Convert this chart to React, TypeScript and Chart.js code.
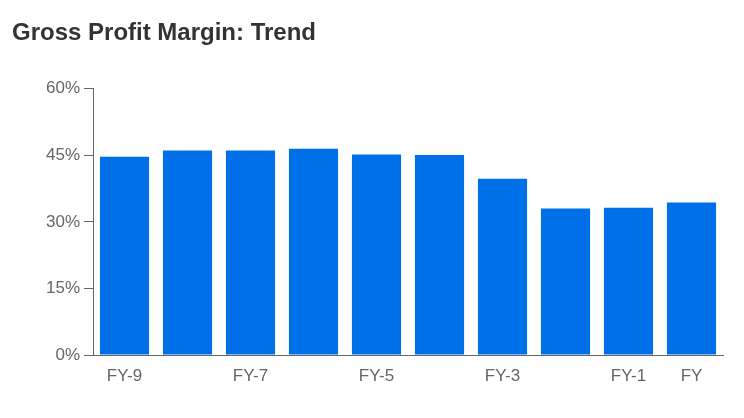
import React, { useEffect, useRef } from "react";
import { Chart, registerables } from "chart.js";

Chart.register(...registerables);

const categories = ["FY-9", "FY-8", "FY-7", "FY-6", "FY-5", "FY-4", "FY-3", "FY-2", "FY-1", "FY"];
const xTickLabels = ["FY-9", "", "FY-7", "", "FY-5", "", "FY-3", "", "FY-1", "FY"];
const grossMargin = [44.7, 46.1, 46.1, 46.5, 45.2, 45.1, 39.7, 33.0, 33.2, 34.4];
const yTicks = [0, 15, 30, 45, 60];

export default function App() {
  const ref = useRef<HTMLCanvasElement | null>(null);

  useEffect(() => {
    if (!ref.current) return;
    const font = "'Liberation Sans', Arial, sans-serif";
    const chart = new Chart(ref.current, {
      type: "bar",
      data: {
        labels: categories,
        datasets: [
          {
            label: "Gross Profit Margin",
            data: grossMargin,
            backgroundColor: "#0070e8",
            borderWidth: 0,
            categoryPercentage: 1,
            barPercentage: 0.78,
          },
        ],
      },
      options: {
        animation: false,
        responsive: false,
        maintainAspectRatio: false,
        layout: { padding: { left: 12, right: 21, top: 0, bottom: 0 } },
        plugins: {
          legend: { display: false },
          tooltip: { enabled: false },
          title: {
            display: true,
            text: "Gross Profit Margin: Trend",
            align: "start",
            color: "#333333",
            font: { family: font, size: 24, weight: "bold", lineHeight: 1.2 },
            padding: { top: 19, bottom: 41 },
          },
        },
        scales: {
          x: {
            grid: { display: false, drawTicks: false },
            border: { display: true, color: "#666666", width: 1 },
            ticks: {
              autoSkip: false,
              maxRotation: 0,
              color: "#666666",
              padding: 11,
              font: { family: font, size: 17 },
              callback: (_v: any, i: number) => xTickLabels[i],
            },
            afterFit: (s: any) => {
              s.height = 63;
            },
          },
          y: {
            min: 0,
            max: 60,
            afterBuildTicks: (s: any) => {
              s.ticks = yTicks.map((v) => ({ value: v }));
            },
            grid: {
              drawOnChartArea: false,
              drawTicks: true,
              tickLength: 9,
              color: "#666666",
            },
            border: { display: true, color: "#666666", width: 1 },
            ticks: {
              color: "#666666",
              padding: 4,
              font: { family: font, size: 17 },
              callback: (v: any) => `${v}%`,
            },
            afterFit: (s: any) => {
              s.width = 81;
            },
          },
        },
      },
    });
    return () => chart.destroy();
  }, []);

  return (
    <div style={{ position: "fixed", left: 0, top: 0, width: 744, height: 418, background: "#fff" }}>
      <canvas ref={ref} width={744} height={418} style={{ width: 744, height: 418 }} />
    </div>
  );
}
